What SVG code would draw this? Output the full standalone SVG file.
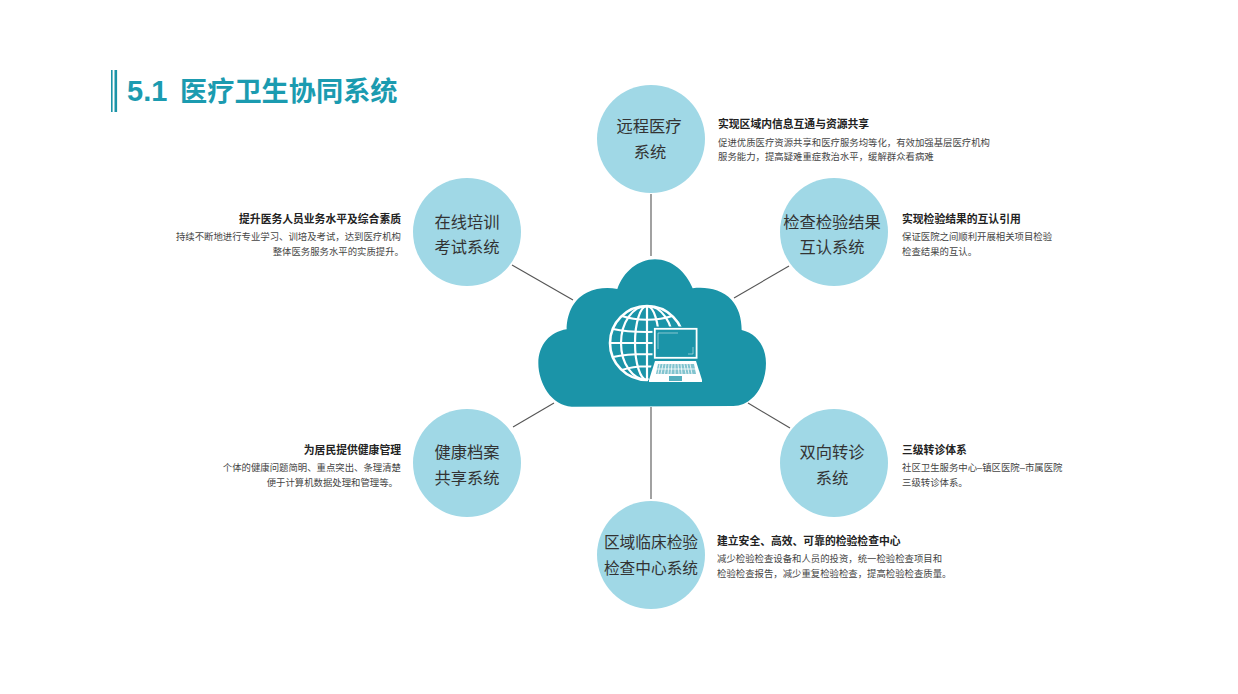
<svg xmlns="http://www.w3.org/2000/svg" width="1238" height="694" viewBox="0 0 1238 694">
<style>
text{font-family:"Liberation Sans","Noto Sans CJK SC",sans-serif}
.c{fill:#a0d8e6}
.n{font-size:16.3px;fill:#333;text-anchor:middle}
.s{font-size:15.7px}
.h{font-size:10.8px;font-weight:700;fill:#222}
.d{font-size:9.4px;fill:#444}
.r{text-anchor:end}
.l{stroke:#555;stroke-width:1.1;fill:none}
.w{stroke:#fff;fill:none}
</style>
<defs>
<clipPath id="globeClip2"><path d="M600 298H692V326.500H652.500V361L647 385H600Z"/></clipPath>
</defs>
<rect width="1238" height="694" fill="#fff"/>
<g id="title">
<rect x="111" y="70" width="1.6" height="42" fill="#1b94a8"/>
<rect x="114.500" y="70" width="2.600" height="42" fill="#1b94a8"/>
<text x="127" y="101" font-size="29" font-weight="700" fill="#1b9bb0">5.1</text>
<text x="180" y="101" font-size="27.2" font-weight="700" fill="#1b9bb0">医疗卫生协同系统</text>
</g>
<g id="connectors">
<path class="l" d="M651 194V256"/>
<path class="l" d="M512 265L573 300"/>
<path class="l" d="M789 266L734 298"/>
<path class="l" d="M554 403L513 427"/>
<path class="l" d="M748 403L790 428"/>
<path class="l" d="M651 407V499"/>
</g>
<g id="cloud">
<path fill="#1b94a8" transform="translate(530 250) scale(.3333)" d="M110 238C110 200 125 150 170 128C200 113 235 112 262 117C280 65 325 28 375 28C425 28 468 65 488 115C530 110 575 118 605 150C625 172 635 205 635 240C680 250 708 290 708 340C708 410 665 468 610 468L125 470C65 468 25 400 25 340C25 285 60 245 110 238Z"/>
<g clip-path="url(#globeClip2)">
<circle class="w" cx="647" cy="343" r="37" stroke-width="2.600"/>
<ellipse class="w" cx="647" cy="343" rx="26" ry="37" stroke-width="2.200"/>
<ellipse class="w" cx="647" cy="343" rx="12" ry="37" stroke-width="2.200"/>
<path class="w" stroke-width="2.200" d="M647 306V380M610 343H684M613 329C630 333 664 333 682 329M613 357C630 353 664 353 682 357M622 316C636 321 658 321 672 316M622 370C636 365 658 365 672 370"/>
</g>
<g id="laptop">
<rect class="w" x="654.800" y="328.800" width="41.800" height="29" stroke-width="1.800"/>
<path fill="none" stroke="#fff" stroke-opacity=".6" stroke-width=".8" d="M658 349V333H678M693 347V354H688"/>
<path fill="#fff" d="M655 361H696L702 380V382H649V380Z"/>
<path fill="#1b94a8" d="M658 364H694L696 374H656Z" fill-opacity=".55"/>
<path stroke="#fff" stroke-width=".8" fill="none" d="M660 364L658 374M663 364L661 374M666 364L664.500 374M669 364L668 374M672 364L671 374M675 364L675 374M678 364L679 374M681 364L682 374M684 364L686 374M687 364L689 374M690 364L692 374M657 369H695"/>
<rect x="669" y="376" width="13" height="5" fill="#1b94a8" fill-opacity=".75"/>
</g>
</g>
<g id="node-remote"><circle class="c" cx="651" cy="139" r="54"/><text class="n" x="649" y="132">远程医疗</text><text class="n" x="650" y="158">系统</text></g>
<g id="node-training"><circle class="c" cx="467" cy="232" r="54"/><text class="n" x="467" y="228">在线培训</text><text class="n" x="467" y="253">考试系统</text></g>
<g id="node-mutual"><circle class="c" cx="834" cy="232" r="54"/><text class="n" x="832" y="228">检查检验结果</text><text class="n" x="832" y="253">互认系统</text></g>
<g id="node-health"><circle class="c" cx="467" cy="463" r="54"/><text class="n" x="467" y="458">健康档案</text><text class="n" x="467" y="484">共享系统</text></g>
<g id="node-referral"><circle class="c" cx="834" cy="463" r="54"/><text class="n" x="832" y="458">双向转诊</text><text class="n" x="832" y="484">系统</text></g>
<g id="node-lab"><circle class="c" cx="651" cy="555" r="54"/><text class="n s" x="651" y="548">区域临床检验</text><text class="n s" x="651" y="574">检查中心系统</text></g>
<g id="desc-remote"><text class="h" x="718" y="128">实现区域内信息互通与资源共享</text><text class="d" x="718" y="146">促进优质医疗资源共享和医疗服务均等化&#65292;有效加强基层医疗机构</text><text class="d" x="718" y="160">服务能力&#65292;提高疑难重症救治水平&#65292;缓解群众看病难</text></g>
<g id="desc-mutual"><text class="h" x="902" y="223">实现检验结果的互认引用</text><text class="d" x="902" y="240">保证医院之间顺利开展相关项目检验</text><text class="d" x="902" y="255">检查结果的互认。</text></g>
<g id="desc-training"><text class="h r" x="401" y="223">提升医务人员业务水平及综合素质</text><text class="d r" x="401" y="240">持续不断地进行专业学习、训培及考试&#65292;达到医疗机构</text><text class="d r" x="404" y="255">整体医务服务水平的实质提升。</text></g>
<g id="desc-referral"><text class="h" x="902" y="454">三级转诊体系</text><text class="d" x="902" y="471">社区卫生服务中心–镇区医院–市属医院</text><text class="d" x="902" y="486">三级转诊体系。</text></g>
<g id="desc-health"><text class="h r" x="401" y="454">为居民提供健康管理</text><text class="d r" x="401" y="471">个体的健康问题简明、重点突出、条理清楚</text><text class="d r" x="398" y="486">便于计算机数据处理和管理等。</text></g>
<g id="desc-lab"><text class="h" x="717" y="545">建立安全、高效、可靠的检验检查中心</text><text class="d" x="717" y="562">减少检验检查设备和人员的投资&#65292;统一检验检查项目和</text><text class="d" x="717" y="577">检验检查报告&#65292;减少重复检验检查&#65292;提高检验检查质量。</text></g>
</svg>
